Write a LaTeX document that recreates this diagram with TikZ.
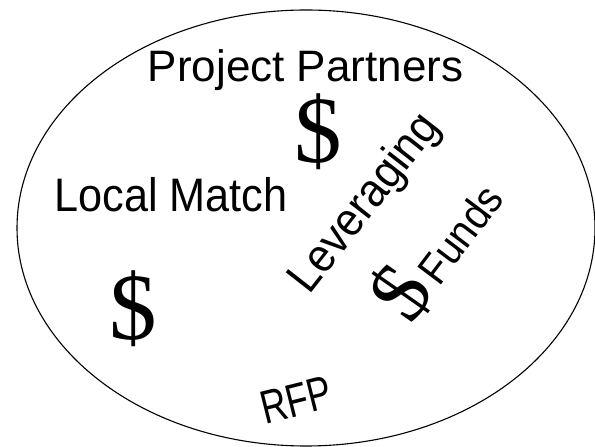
\documentclass[tikz,border=0pt]{standalone}
\usepackage{fontspec}
\setmainfont{Liberation Sans}
\newfontfamily\narrowfont{Liberation Sans}[FakeStretch=0.92]
\newfontfamily\dollarfont{Liberation Serif}
\begin{document}
\begin{tikzpicture}[x=1pt,y=1pt,
  lbl/.style={inner sep=0pt, font=\fontsize{44}{48}\selectfont},
  nlbl/.style={inner sep=0pt, font=\narrowfont\fontsize{47}{50}\selectfont},
  money/.style={inner sep=0pt, font=\dollarfont\fontsize{95}{100}\selectfont}]
\useasboundingbox (0,0) rectangle (595,447);
\draw[line width=1.1pt] (306,219) ellipse [x radius=289, y radius=218];
\node[lbl, anchor=base] (pp) at (305.5,365) {Project Partners};
\node[nlbl, anchor=base] (lm) at (171,235) {Local Match};
\node[money] (d1) at (318,315) {\$};
\node[money] (d2) at (133,138) {\$};
\node[nlbl, rotate=52] (lev) at (366,243) {Leveraging};
\node[nlbl, font=\narrowfont\fontsize{43}{46}\selectfont, rotate=53] (fu) at (460,213) {Funds};
\node[money, font=\dollarfont\fontsize{86}{90}\selectfont, rotate=55] (d3) at (401,154) {\$};
\node[nlbl, rotate=14] (rfp) at (296,47) {\scalebox{0.83}[1]{RFP}};
\end{tikzpicture}
\end{document}
